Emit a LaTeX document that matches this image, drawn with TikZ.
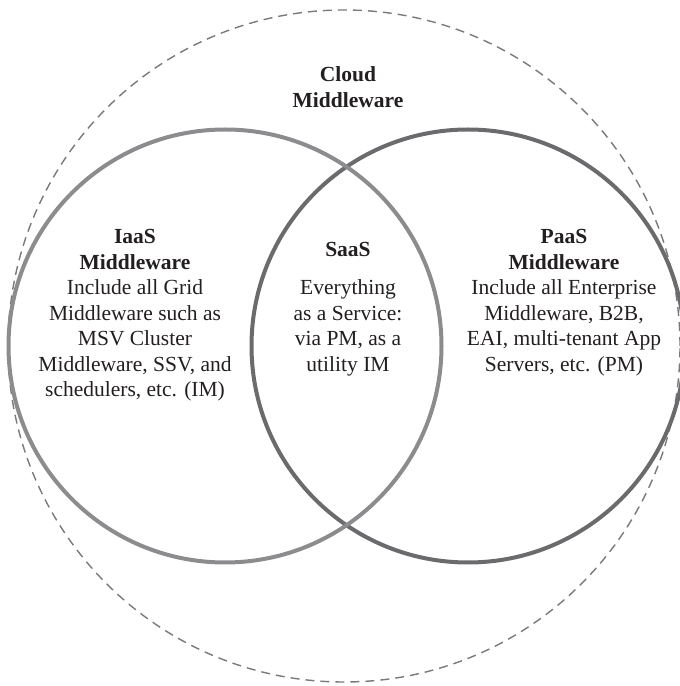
\documentclass[tikz,border=0pt]{standalone}
\usepackage{fontspec}
\setmainfont{Liberation Serif}
\definecolor{lightring}{HTML}{8C8C8F}
\definecolor{darkring}{HTML}{6B6B6E}
\definecolor{dashring}{HTML}{7A7A7A}
\definecolor{txt}{HTML}{231F20}
\begin{document}
\begin{tikzpicture}[x=1pt,y=1pt,
  ring/.style={line width=4pt},
  outer/.style={draw=dashring,line width=1.4pt,dash pattern=on 9pt off 6pt},
  label/.style={align=center,text=txt,inner sep=0pt,font=\fontsize{21.5}{25.5}\selectfont}]
\useasboundingbox (0,0) rectangle (680,686);
\fill[white] (0,0) rectangle (680,686);
\node[coordinate] (co) at (344,340) {};
\node[coordinate] (cl) at (225,340) {};
\node[coordinate] (cr) at (468,340) {};
\draw[outer] (co) circle[radius=336pt];
\draw[ring,draw=darkring] (cr) circle[radius=216.5pt];
\draw[ring,draw=lightring] (cl) circle[radius=216.5pt];
\node[label] (cloud) at (348,599) {\textbf{Cloud}\\\textbf{Middleware}};
\node[label] (iaas) at (135,370.5) {\textbf{IaaS}\\\textbf{Middleware}\\Include all Grid\\Middleware such as\\MSV Cluster\\Middleware, SSV, and\\schedulers, etc. (IM)};
\node[label] (saas) at (348,377) {\textbf{SaaS}\\[12.5pt]Everything\\as a Service:\\via PM, as a\\utility IM};
\node[label] (paas) at (564,383.5) {\textbf{PaaS}\\\textbf{Middleware}\\Include all Enterprise\\Middleware, B2B,\\EAI, multi-tenant App\\Servers, etc. (PM)};
\end{tikzpicture}
\end{document}
